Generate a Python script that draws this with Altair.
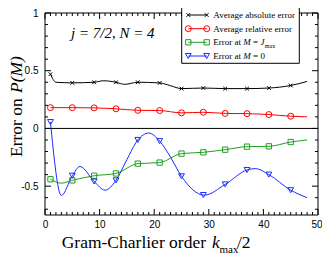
import altair as alt
import pandas as pd

# ---------------- data ----------------
# curve knots (Gram-Charlier order k_max/2 -> error)
abs_x = [1, 2, 5, 9, 10.7, 13, 14.6, 17, 21, 23, 25, 29, 33, 37, 41, 45, 48]
abs_y = [0.47, 0.40, 0.395, 0.40, 0.413, 0.40, 0.382, 0.40, 0.394, 0.37, 0.345, 0.35, 0.345, 0.345, 0.35, 0.372, 0.407]
rel_x = [1, 5, 9, 13, 17, 21, 25, 29, 33, 37, 41, 45, 48]
rel_y = [0.18, 0.18, 0.178, 0.17, 0.157, 0.155, 0.135, 0.14, 0.13, 0.128, 0.12, 0.106, 0.10]
jmax_x = [1, 3, 5, 9, 13, 17, 21, 25, 29, 33, 37, 41, 45, 48]
jmax_y = [-0.44, -0.474, -0.45, -0.41, -0.39, -0.305, -0.296, -0.218, -0.207, -0.184, -0.158, -0.155, -0.118, -0.10]
m0_x = [1, 3, 5, 6.4, 9, 11, 13, 15, 17, 19, 21, 23, 25, 29.2, 33, 37, 38.5, 41, 45, 48]
m0_y = [0.055, -0.58, -0.41, -0.33, -0.46, -0.535, -0.45, -0.27, -0.10, -0.04, -0.11, -0.25, -0.415, -0.578, -0.485, -0.36, -0.348, -0.40, -0.535, -0.60]

# marker positions
mark_x = [1, 5, 9, 13, 17, 21, 25, 29, 33, 37, 41, 45]
abs_m = [0.47, 0.395, 0.40, 0.40, 0.40, 0.394, 0.345, 0.35, 0.345, 0.345, 0.35, 0.372]
rel_m = [0.18, 0.18, 0.178, 0.17, 0.157, 0.155, 0.135, 0.14, 0.13, 0.128, 0.12, 0.106]
jmax_m = [-0.44, -0.45, -0.41, -0.39, -0.305, -0.296, -0.218, -0.207, -0.184, -0.158, -0.155, -0.118]
m0_m = [0.055, -0.41, -0.46, -0.45, -0.10, -0.11, -0.415, -0.577, -0.485, -0.36, -0.40, -0.535]

# ticks / labels
x_major = [0, 10, 20, 30, 40, 50]
x_minor = [v for v in range(0, 51) if v % 10 != 0]
y_major = [-0.5, 0, 0.5, 1]
y_minor = [-0.7, -0.6, -0.4, -0.3, -0.2, -0.1, 0.1, 0.2, 0.3, 0.4, 0.6, 0.7, 0.8, 0.9]

legend_labels = ["Average absolute error", "Average relative error", None, None]

# ---------------- styling ----------------
W, H = 273, 202
SERIF = "Liberation Serif"
SANS = "Liberation Sans"
BLACK, RED, GREEN, BLUE = "#000000", "#ff0000", "#1f9f1f", "#1a2cff"
XSHAPE = "M-1,-1L1,1M-1,1L1,-1"

xs = alt.Scale(domain=[0, 50], nice=False, zero=False)
ys = alt.Scale(domain=[-0.75, 1], nice=False, zero=False)
AX = alt.Axis(values=x_major, format="d", ticks=False, domain=False, grid=False, title=None,
              labelFont=SANS, labelFontSize=10, labelColor="black", labelPadding=4,
              labelFlush=False, labelOverlap=False,
              labelOffset={"condition": {"test": "datum.value == 50", "value": -1.5}, "value": 0})
AY = alt.Axis(values=y_major, format="~g", labelExpr="replace(datum.label, '\u2212', '-')",
              ticks=False, domain=False, grid=False, title=None, labelFont=SANS, labelFontSize=10,
              labelColor="black", labelPadding=7, labelFlush=False, labelOverlap=False)
one = pd.DataFrame({"a": [0]})


def X(f):
    return alt.X(f, scale=xs, axis=AX)


def Y(f):
    return alt.Y(f, scale=ys, axis=AY)


def line_layer(xv, yv, color):
    df = pd.DataFrame({"x": xv, "y": yv})
    return alt.Chart(df).mark_line(color=color, strokeWidth=1, interpolate="monotone").encode(
        x=X("x:Q"), y=Y("y:Q"))


def point_layer(xv, yv, color, shape, size):
    df = pd.DataFrame({"x": xv, "y": yv})
    return alt.Chart(df).mark_point(color=color, shape=shape, size=size, filled=False,
                                    strokeWidth=1, opacity=1).encode(x=X("x:Q"), y=Y("y:Q"))


def xticks(vals, length, top):
    df = pd.DataFrame({"v": vals})
    y1, y2 = (0, length) if top else (H, H - length)
    return alt.Chart(df).mark_rule(color="black", strokeWidth=1).encode(
        x=X("v:Q"), y=alt.value(y1), y2=alt.value(y2))


def yticks(vals, length, right):
    df = pd.DataFrame({"v": vals})
    x1, x2 = (W, W - length) if right else (0, length)
    return alt.Chart(df).mark_rule(color="black", strokeWidth=1).encode(
        y=Y("v:Q"), x=alt.value(x1), x2=alt.value(x2))


def txt(s, x, y, size, style="normal", font=SERIF, align="left", baseline="alphabetic", angle=0):
    return alt.Chart(one).mark_text(text=s, font=font, fontSize=size, fontStyle=style, align=align,
                                    baseline=baseline, angle=angle, color="black").encode(
        x=alt.value(x), y=alt.value(y))


zero = alt.Chart(pd.DataFrame({"v": [0]})).mark_rule(color="black", strokeWidth=1).encode(
    y=Y("v:Q"), x=alt.value(0), x2=alt.value(W))

frame = alt.Chart(one).mark_rect(fill="transparent", stroke="black", strokeWidth=1).encode(
    x=alt.value(0), x2=alt.value(W), y=alt.value(0), y2=alt.value(H))

layers = [zero,
          xticks(x_major, 6, False), xticks(x_minor, 3, False),
          xticks(x_major, 6, True), xticks(x_minor, 3, True),
          yticks(y_major, 6, False), yticks(y_minor, 3, False),
          yticks(y_major, 6, True), yticks(y_minor, 3, True),
          frame,
          line_layer(abs_x, abs_y, BLACK), line_layer(rel_x, rel_y, RED),
          line_layer(jmax_x, jmax_y, GREEN), line_layer(m0_x, m0_y, BLUE),
          point_layer(mark_x, abs_m, BLACK, XSHAPE, 14),
          point_layer(mark_x, rel_m, RED, "circle", 36),
          point_layer(mark_x, jmax_m, GREEN, "square", 28),
          point_layer(mark_x, m0_m, BLUE, "triangle-down", 34)]

# annotation
layers.append(txt("j = 7/2, N = 4", 26, 24.5, 15, style="italic"))

# axis titles
layers += [txt("Gram-Charlier order", 16.7, 235.3, 17.5),
           txt("k", 167, 235.3, 17.5, style="italic"),
           txt("max", 174.5, 239.5, 11),
           txt("/2", 192, 235.3, 17.5),
           txt("Error on", -23.5, 144, 17.5, angle=270),
           txt("P(M)", -23.5, 80, 17.5, style="italic", angle=270)]

# legend
LX0, LX1, LY0, LY1 = 136.7, 254.3, -6.3, 50.3
layers.append(alt.Chart(one).mark_rect(fill="white", stroke="black", strokeWidth=1).encode(
    x=alt.value(LX0), x2=alt.value(LX1), y=alt.value(LY0), y2=alt.value(LY1)))
rows = [2, 15.7, 29.3, 43]
styles = [(BLACK, XSHAPE, 14), (RED, "circle", 36), (GREEN, "square", 28), (BLUE, "triangle-down", 34)]
for ry, (col, shp, sz), lab in zip(rows, styles, legend_labels):
    layers.append(alt.Chart(one).mark_rule(color=col, strokeWidth=1).encode(
        x=alt.value(143.3), x2=alt.value(161.7), y=alt.value(ry)))
    for px in (143.3, 161.7):
        layers.append(alt.Chart(one).mark_point(color=col, shape=shp, size=sz, filled=False,
                                                strokeWidth=1, opacity=1).encode(
            x=alt.value(px), y=alt.value(ry)))
    if lab:
        layers.append(txt(lab, 168.3, ry + 3, 9))
# rows 3 and 4 with mixed styles
for ry in rows[2:]:
    layers.append(txt("Error at", 168.3, ry + 3, 9))
    layers.append(txt("M", 198.3, ry + 3, 9, style="italic"))
    layers.append(txt("=", 208.0, ry + 3, 9))
layers.append(txt("J", 215.4, rows[2] + 3, 9, style="italic"))
layers.append(txt("max", 219.8, rows[2] + 5.5, 6))
layers.append(txt("0", 215.4, rows[3] + 3, 9))

chart = alt.layer(*layers).properties(
    width=W, height=H,
    autosize=alt.AutoSizeParams(type="none"),
    padding={"left": 37, "top": 5, "right": 4, "bottom": 40},
).configure_view(stroke=None)

chart.save("out.html", embed_options={"renderer": "svg", "actions": False})
